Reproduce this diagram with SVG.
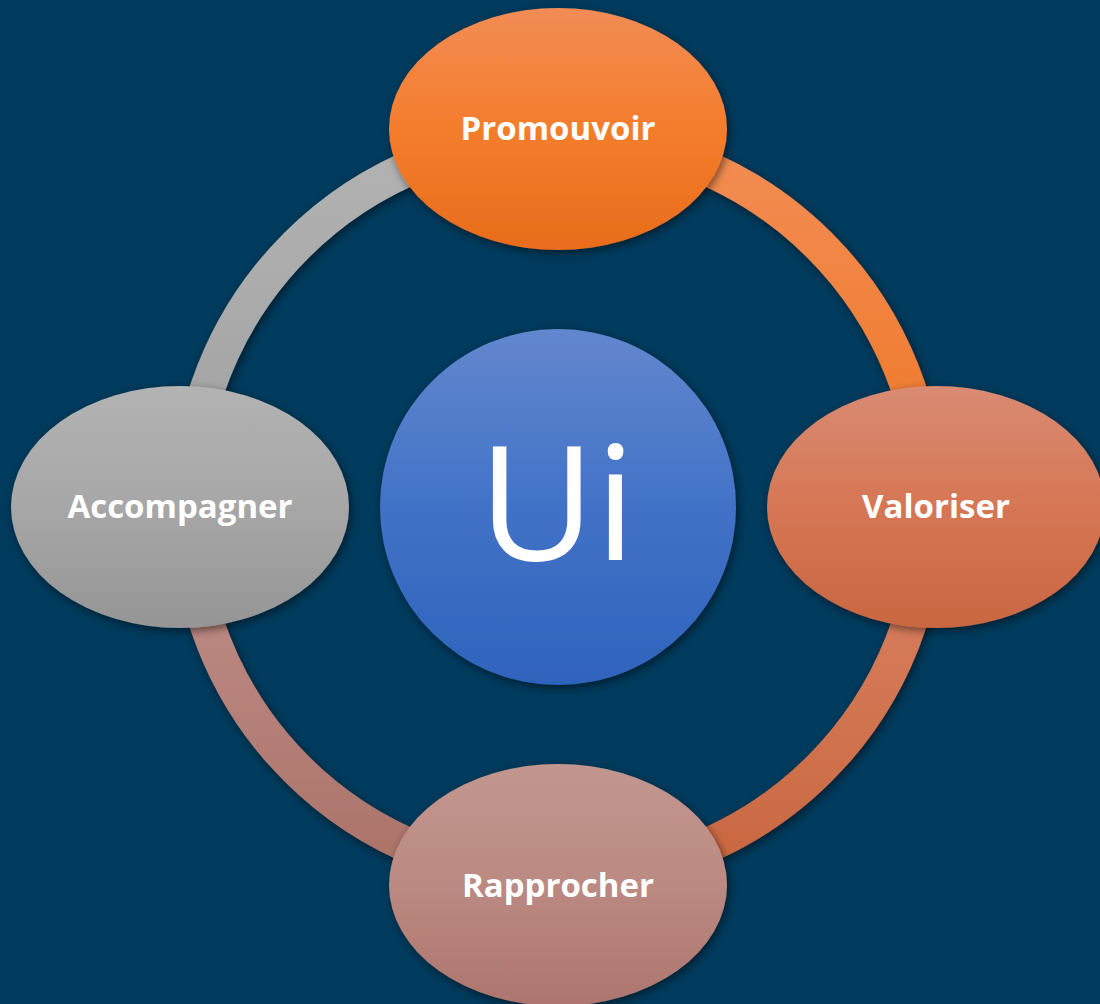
<svg xmlns="http://www.w3.org/2000/svg" width="1100" height="1004" viewBox="0 0 1100 1004">
<style>
.lbl{font-family:"Open Sans","Noto Sans","Liberation Sans",sans-serif;font-weight:700;font-size:33px;fill:#ffffff;text-anchor:middle}
.big{font-family:"Open Sans","Noto Sans","Liberation Sans",sans-serif;font-weight:400;font-size:160px;fill:#ffffff;text-anchor:middle}
.arc{fill:none;stroke-width:35}
</style>
<defs>
<filter id="sh" x="-20%" y="-20%" width="140%" height="140%">
<feDropShadow dx="2" dy="3" stdDeviation="4" flood-color="#000000" flood-opacity="0.5"/>
</filter>
<linearGradient id="gTL" gradientUnits="userSpaceOnUse" x1="0" y1="137" x2="0" y2="507"><stop offset="0" stop-color="#b3b3b3"/><stop offset="1" stop-color="#a0a0a0"/></linearGradient>
<linearGradient id="gTR" gradientUnits="userSpaceOnUse" x1="0" y1="137" x2="0" y2="507"><stop offset="0" stop-color="#f38d55"/><stop offset="1" stop-color="#ee7624"/></linearGradient>
<linearGradient id="gBR" gradientUnits="userSpaceOnUse" x1="0" y1="507" x2="0" y2="877"><stop offset="0" stop-color="#db8466"/><stop offset="1" stop-color="#c9673f"/></linearGradient>
<linearGradient id="gBL" gradientUnits="userSpaceOnUse" x1="0" y1="507" x2="0" y2="877"><stop offset="0" stop-color="#c1928c"/><stop offset="1" stop-color="#ab7268"/></linearGradient>
<linearGradient id="eTop" x1="0" y1="0" x2="0" y2="1"><stop offset="0" stop-color="#f28c55"/><stop offset="0.5" stop-color="#f47d2c"/><stop offset="1" stop-color="#e86c1c"/></linearGradient>
<linearGradient id="eRight" x1="0" y1="0" x2="0" y2="1"><stop offset="0" stop-color="#d98b73"/><stop offset="0.5" stop-color="#d67654"/><stop offset="1" stop-color="#c96641"/></linearGradient>
<linearGradient id="eBot" x1="0" y1="0" x2="0" y2="1"><stop offset="0" stop-color="#c2968f"/><stop offset="0.5" stop-color="#bb8a82"/><stop offset="1" stop-color="#ad756d"/></linearGradient>
<linearGradient id="eLeft" x1="0" y1="0" x2="0" y2="1"><stop offset="0" stop-color="#b3b3b3"/><stop offset="0.5" stop-color="#a7a7a7"/><stop offset="1" stop-color="#959595"/></linearGradient>
<linearGradient id="eCen" x1="0" y1="0" x2="0" y2="1"><stop offset="0" stop-color="#6387ce"/><stop offset="0.5" stop-color="#4272c7"/><stop offset="1" stop-color="#2f63bc"/></linearGradient>
</defs>
<rect width="1100" height="1004" fill="#003a5c"/>
<g id="connectors" filter="url(#sh)">
<path class="arc" stroke="url(#gTL)" d="M188 507 A370 370 0 0 1 558 137"/>
<path class="arc" stroke="url(#gTR)" d="M558 137 A370 370 0 0 1 928 507"/>
<path class="arc" stroke="url(#gBR)" d="M928 507 A370 370 0 0 1 558 877"/>
<path class="arc" stroke="url(#gBL)" d="M558 877 A370 370 0 0 1 188 507"/>
</g>
<g id="node-promouvoir">
<ellipse cx="558" cy="129" rx="169" ry="121" fill="url(#eTop)" filter="url(#sh)"/>
<text class="lbl" x="558" y="140">Promouvoir</text>
</g>
<g id="node-valoriser">
<ellipse cx="936" cy="507" rx="169" ry="121" fill="url(#eRight)" filter="url(#sh)"/>
<text class="lbl" x="936" y="518">Valoriser</text>
</g>
<g id="node-rapprocher">
<ellipse cx="558" cy="885" rx="169" ry="121" fill="url(#eBot)" filter="url(#sh)"/>
<text class="lbl" x="558" y="897">Rapprocher</text>
</g>
<g id="node-accompagner">
<ellipse cx="180" cy="507" rx="169" ry="121" fill="url(#eLeft)" filter="url(#sh)"/>
<text class="lbl" x="180" y="518">Accompagner</text>
</g>
<g id="node-ui">
<circle cx="558" cy="507" r="178" fill="url(#eCen)" filter="url(#sh)"/>
<text class="big" x="557" y="560">Ui</text>
</g>
</svg>
